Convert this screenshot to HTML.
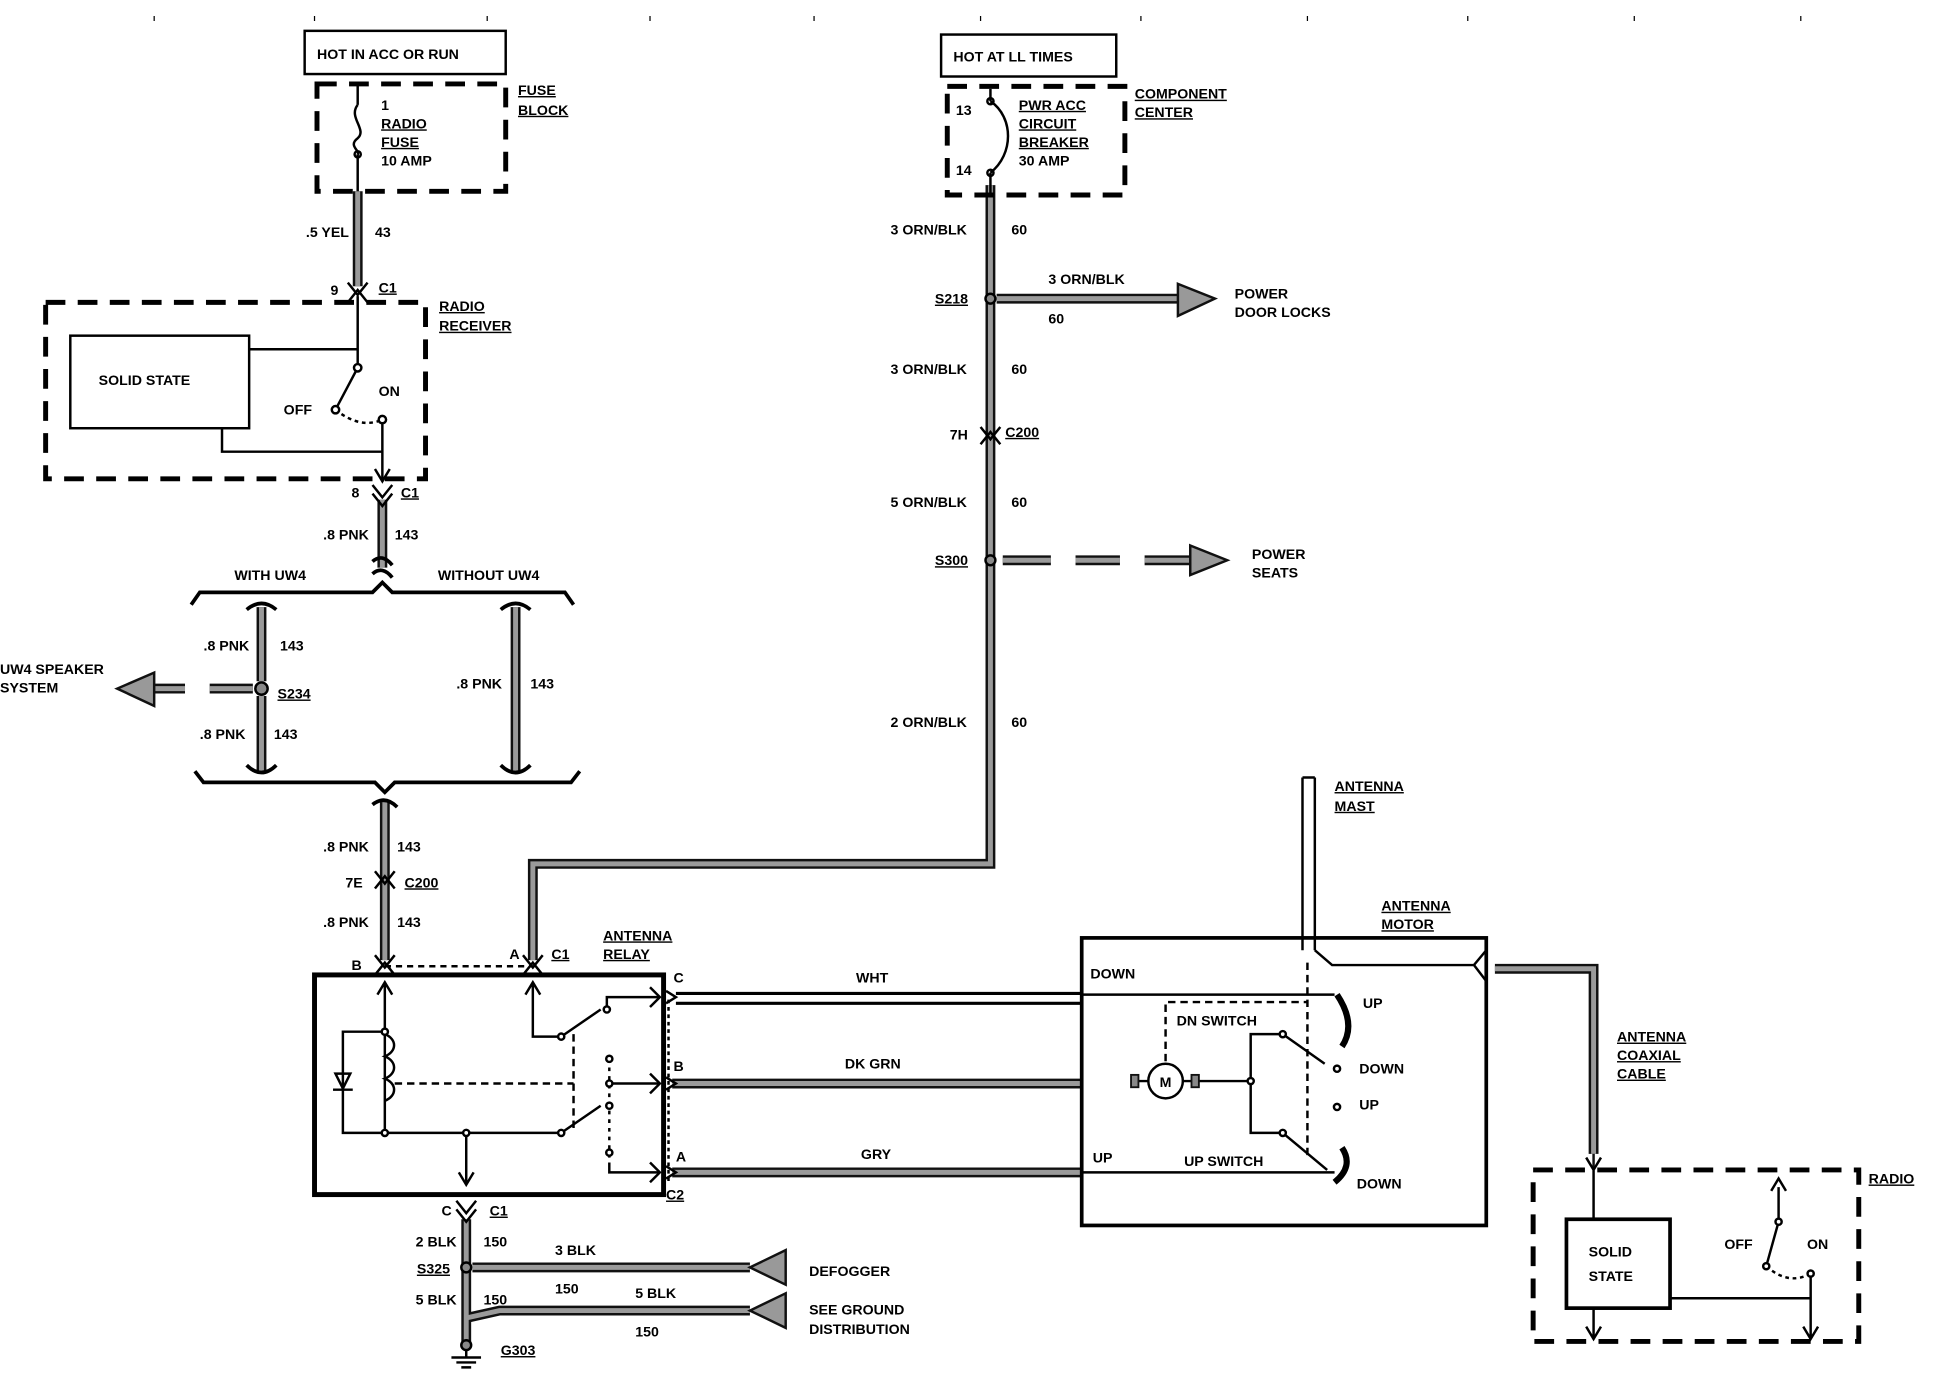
<!DOCTYPE html>
<html><head><meta charset="utf-8"><style>
html,body{margin:0;padding:0;background:#fff;}
svg{display:block}
text{font-family:"Liberation Sans",sans-serif;font-weight:bold;font-size:11.5px;fill:#000;}
.u{text-decoration:underline}
</style></head><body>
<svg width="1934" height="1376" viewBox="0 0 1568 1115" preserveAspectRatio="none" xmlns="http://www.w3.org/2000/svg">
<defs>
<g id="W" fill="none">
<path d="M290 155V232"/>
<path d="M310 405V460"/>
<path d="M212 492V552 M212 564V625"/>
<path d="M418 492V625"/>
<path d="M312 650V778"/>
<path d="M432 778V700H803V150"/>
<path d="M378 988V1088"/>
<path d="M383 1027H608"/>
<path d="M378 1068L405 1062H608"/>
<path d="M808 242H955"/>
<path d="M545 878H878"/>
<path d="M545 950H878"/>
<path d="M1212 785H1292V935"/>
<path d="M170 558H205"/>
<path d="M125 558H150"/>
</g>
</defs>
<!-- top ticks -->
<g stroke="#000" stroke-width="1">
<path d="M125 13v4M255 13v4M395 13v4M527 13v4M660 13v4M795 13v4M925 13v4M1060 13v4M1190 13v4M1325 13v4M1460 13v4"/>
</g>
<!-- wires -->
<use href="#W" stroke="#111" stroke-width="8"/>
<use href="#W" stroke="#9a9a9a" stroke-width="4"/>
<!-- dashed wire S300 -->
<g stroke="#111" stroke-width="8"><path d="M813 454H852M872 454H908M928 454H965" /></g>
<g stroke="#9a9a9a" stroke-width="4"><path d="M813 454H852M872 454H908M928 454H965" /></g>
<!-- arrows -->
<g fill="#999" stroke="#111" stroke-width="2">
<path d="M955 230L985 242L955 256Z"/>
<path d="M965 442L995 454L965 466Z"/>
<path d="M125 545L95 558L125 572Z"/>
<path d="M637 1013L608 1027L637 1041Z"/>
<path d="M637 1048L608 1062L637 1076Z"/>
<path d="M1292 935V948"/>
</g>
<g fill="none" stroke="#000" stroke-width="2">
<!-- top boxes -->
<rect x="247" y="25" width="163" height="35"/>
<rect x="763" y="28" width="142" height="34"/>
</g>
<g fill="none" stroke="#000" stroke-width="4" stroke-dasharray="16 10">
<rect x="257" y="68" width="153" height="87"/>
<rect x="768" y="70" width="144" height="88"/>
<rect x="37" y="245" width="308" height="143"/>
<rect x="1243" y="948" width="264" height="139"/>
</g>
<g fill="none" stroke="#000" stroke-width="2">
<!-- fuse -->
<path d="M290 68V85 M290 125V155"/>
<path d="M290 85C282 95 298 105 290 112C282 118 292 122 290 125"/>
<circle cx="290" cy="125" r="2.5"/>
<!-- breaker -->
<path d="M803 72V82 M803 140V158"/>
<path d="M803 82C822 95 822 125 803 140"/>
<circle cx="803" cy="82" r="2.5"/><circle cx="803" cy="140" r="2.5"/>
<!-- connectors -->
<path d="M282 245L290 235L298 245 M282 229L290 239L298 229"/>
<path d="M302 400L310 410L318 400 M302 393L310 403L318 393"/>
<path d="M795 360L803 350L811 360 M795 346L803 356L811 346"/>
<path d="M304 720L312 710L320 720 M304 706L312 716L320 706"/>
<path d="M304 790L312 780L320 790 M304 774L312 784L320 774"/>
<path d="M424 790L432 780L440 790 M424 774L432 784L440 774"/>
<path d="M370 980L378 990L386 980 M370 973L378 983L386 973"/>
<!-- radio receiver internal -->
<rect x="57" y="272" width="145" height="75"/>
<path d="M290 240V298 M202 283H290 M290 298L272 332 M310 340V390 M180 347V366H310"/>
<path d="M272 332Q292 348 310 340" stroke-dasharray="3 3"/>
<path d="M304 380L310 390L316 380"/>
<circle cx="290" cy="298" r="3" fill="#fff"/><circle cx="272" cy="332" r="3" fill="#fff"/><circle cx="310" cy="340" r="3" fill="#fff"/>
<!-- brackets -->
<path d="M155 490L162 480H302L310 472L318 480H458L465 490" stroke-width="3"/>
<path d="M158 625L165 634H304L312 642L320 634H463L470 625" stroke-width="3"/>
<path d="M302 455Q310 448 318 458 M302 465Q310 458 318 468" stroke-width="3"/>
<path d="M200 494Q212 484 224 494 M200 620Q212 632 224 620 M406 494Q418 484 430 494 M406 620Q418 632 430 620 M302 652Q312 644 322 654" stroke-width="3"/>
<!-- relay -->
<rect x="255" y="790" width="283" height="178" stroke-width="4"/>
<path d="M312 783H432" stroke-dasharray="5 4"/>
<path d="M312 796V918 M432 796V840H455 M455 840L487 818 M492 818V808H535 M306 806L312 796L318 806 M426 806L432 796L438 806"/>
<path d="M312 836H278V918H312 M312 918H455 M455 918L487 896 M378 918V960 M372 950L378 960L384 950"/>
<path d="M272 870L278 882L284 870Z M270 883H286"/>
<path d="M312 838c10 4 10 14 0 18c10 4 10 14 0 18c10 4 10 14 0 18"/>
<path d="M320 878H465 M465 838V918" stroke-dasharray="6 4"/>
<path d="M494 858V942" stroke-dasharray="3 4"/>
<path d="M494 878H535 M494 942V950H535"/>
<path d="M527 800L535 808L527 816 M527 870L535 878L527 886 M527 942L535 950L527 958"/>
<circle cx="312" cy="836" r="2.5" fill="#fff"/><circle cx="312" cy="918" r="2.5" fill="#fff"/><circle cx="378" cy="918" r="2.5" fill="#fff"/>
<circle cx="455" cy="840" r="2.5" fill="#fff"/><circle cx="455" cy="918" r="2.5" fill="#fff"/><circle cx="492" cy="818" r="2.5" fill="#fff"/><circle cx="494" cy="858" r="2.5" fill="#fff"/><circle cx="494" cy="878" r="2.5" fill="#fff"/><circle cx="494" cy="896" r="2.5" fill="#fff"/><circle cx="494" cy="934" r="2.5" fill="#fff"/>
<!-- C2 side connectors -->
<path d="M540 803L548 808L540 813 M540 873L548 878L540 883 M540 945L548 950L540 955"/>
<path d="M542 810V960" stroke-dasharray="3 3"/>
<!-- WHT wire -->
<path d="M548 805H878 M548 813H878" stroke-width="2.5"/>
<!-- motor -->
<rect x="877" y="760" width="328" height="233" stroke-width="3"/>
<path d="M878 806H1082 M878 950H1082"/>
<path d="M1056 630V770 M1066 630V770 M1056 630H1066"/>
<path d="M1066 770L1080 782H1195L1205 770 M1195 782L1205 795"/>
<path d="M1060 780V940 M945 860V812H1060" stroke-dasharray="6 4"/>
<circle cx="945" cy="876" r="14"/>
<path d="M920 876H931 M959 876H1014 M1014 876V838H1040 M1014 876V918H1040 M1040 838L1074 862 M1040 918L1076 948"/>
<circle cx="1014" cy="876" r="2.5" fill="#fff"/><circle cx="1040" cy="838" r="2.5" fill="#fff"/><circle cx="1040" cy="918" r="2.5" fill="#fff"/><circle cx="1084" cy="866" r="2.5" fill="#fff"/><circle cx="1084" cy="897" r="2.5" fill="#fff"/>
<path d="M1084 806Q1100 830 1088 848 M1088 930Q1098 945 1082 958" stroke-width="5"/>
<!-- ground -->
<circle cx="378" cy="1027" r="4" fill="#888"/>
<path d="M378 1092V1100 M366 1100H390 M370 1104H386 M374 1108H382"/>
<circle cx="378" cy="1090" r="4" fill="#888"/>
<!-- radio right -->
<rect x="1270" y="988" width="84" height="72" stroke-width="3"/>
<path d="M1292 948V988 M1286 938L1292 948L1298 938 M1292 1060V1085 M1286 1075L1292 1085L1298 1075"/>
<path d="M1442 962V990L1432 1026 M1468 1032V1085 M1354 1052H1468 M1462 1075L1468 1085L1474 1075 M1436 965L1442 955L1448 965"/>
<path d="M1432 1026Q1450 1042 1468 1032" stroke-dasharray="3 3"/>
<circle cx="1442" cy="990" r="2.5" fill="#fff"/><circle cx="1432" cy="1026" r="2.5" fill="#fff"/><circle cx="1468" cy="1032" r="2.5" fill="#fff"/>
<!-- splices -->
<circle cx="803" cy="242" r="4" fill="#888"/><circle cx="803" cy="454" r="4" fill="#888"/><circle cx="212" cy="558" r="5" fill="#888"/>
</g>
<g fill="#888" stroke="#111" stroke-width="1.5"><rect x="917" y="871" width="6" height="10"/><rect x="966" y="871" width="6" height="10"/></g>
<text x="945" y="881" text-anchor="middle" font-size="13">M</text>
<!-- labels -->
<text x="257" y="48">HOT IN ACC OR RUN</text>
<text x="773" y="50">HOT AT LL TIMES</text>
<text x="420" y="77" class="u">FUSE</text><text x="420" y="93" class="u">BLOCK</text>
<text x="309" y="89">1</text><text x="309" y="104" class="u">RADIO</text><text x="309" y="119" class="u">FUSE</text><text x="309" y="134">10 AMP</text>
<text x="920" y="80" class="u">COMPONENT</text><text x="920" y="95" class="u">CENTER</text>
<text x="775" y="93">13</text><text x="775" y="142">14</text>
<text x="826" y="89" class="u">PWR ACC</text><text x="826" y="104" class="u">CIRCUIT</text><text x="826" y="119" class="u">BREAKER</text><text x="826" y="134">30 AMP</text>
<text x="248" y="192">.5 YEL</text><text x="304" y="192">43</text>
<text x="268" y="239">9</text><text x="307" y="237" class="u">C1</text>
<text x="356" y="252" class="u">RADIO</text><text x="356" y="268" class="u">RECEIVER</text>
<text x="80" y="312">SOLID STATE</text>
<text x="230" y="336">OFF</text><text x="307" y="321">ON</text>
<text x="285" y="403">8</text><text x="325" y="403" class="u">C1</text>
<text x="262" y="437">.8 PNK</text><text x="320" y="437">143</text>
<text x="190" y="470">WITH UW4</text><text x="355" y="470">WITHOUT UW4</text>
<text x="0" y="546">UW4 SPEAKER</text><text x="0" y="561">SYSTEM</text>
<text x="165" y="527">.8 PNK</text><text x="227" y="527">143</text>
<text x="225" y="566" class="u">S234</text>
<text x="162" y="599">.8 PNK</text><text x="222" y="599">143</text>
<text x="370" y="558">.8 PNK</text><text x="430" y="558">143</text>
<text x="262" y="690">.8 PNK</text><text x="322" y="690">143</text>
<text x="280" y="719">7E</text><text x="328" y="719" class="u">C200</text>
<text x="262" y="751">.8 PNK</text><text x="322" y="751">143</text>
<text x="285" y="786">B</text><text x="413" y="777">A</text><text x="447" y="777" class="u">C1</text>
<text x="489" y="762" class="u">ANTENNA</text><text x="489" y="777" class="u">RELAY</text>
<text x="546" y="796">C</text><text x="546" y="868">B</text><text x="548" y="941">A</text><text x="540" y="972" class="u">C2</text>
<text x="694" y="796">WHT</text><text x="685" y="866">DK GRN</text><text x="698" y="939">GRY</text>
<text x="358" y="985">C</text><text x="397" y="985" class="u">C1</text>
<text x="337" y="1010">2 BLK</text><text x="392" y="1010">150</text>
<text x="338" y="1032" class="u">S325</text>
<text x="450" y="1017">3 BLK</text><text x="450" y="1048">150</text>
<text x="337" y="1057">5 BLK</text><text x="392" y="1057">150</text>
<text x="515" y="1052">5 BLK</text><text x="515" y="1083">150</text>
<text x="406" y="1098" class="u">G303</text>
<text x="656" y="1034">DEFOGGER</text>
<text x="656" y="1065">SEE GROUND</text><text x="656" y="1081">DISTRIBUTION</text>
<text x="722" y="190">3 ORN/BLK</text><text x="820" y="190">60</text>
<text x="758" y="246" class="u">S218</text>
<text x="850" y="230">3 ORN/BLK</text><text x="850" y="262">60</text>
<text x="1001" y="242">POWER</text><text x="1001" y="257">DOOR LOCKS</text>
<text x="722" y="303">3 ORN/BLK</text><text x="820" y="303">60</text>
<text x="770" y="356">7H</text><text x="815" y="354" class="u">C200</text>
<text x="722" y="411">5 ORN/BLK</text><text x="820" y="411">60</text>
<text x="758" y="458" class="u">S300</text>
<text x="1015" y="453">POWER</text><text x="1015" y="468">SEATS</text>
<text x="722" y="589">2 ORN/BLK</text><text x="820" y="589">60</text>
<text x="1082" y="641" class="u">ANTENNA</text><text x="1082" y="657" class="u">MAST</text>
<text x="1120" y="738" class="u">ANTENNA</text><text x="1120" y="753" class="u">MOTOR</text>
<text x="884" y="793">DOWN</text><text x="886" y="942">UP</text>
<text x="954" y="831">DN SWITCH</text><text x="960" y="945">UP SWITCH</text>
<text x="1105" y="817">UP</text><text x="1102" y="870">DOWN</text><text x="1102" y="899">UP</text><text x="1100" y="963">DOWN</text>
<text x="1311" y="844" class="u">ANTENNA</text><text x="1311" y="859" class="u">COAXIAL</text><text x="1311" y="874" class="u">CABLE</text>
<text x="1515" y="959" class="u">RADIO</text>
<text x="1288" y="1018">SOLID</text><text x="1288" y="1038">STATE</text>
<text x="1398" y="1012">OFF</text><text x="1465" y="1012">ON</text>
</svg>
</body></html>
